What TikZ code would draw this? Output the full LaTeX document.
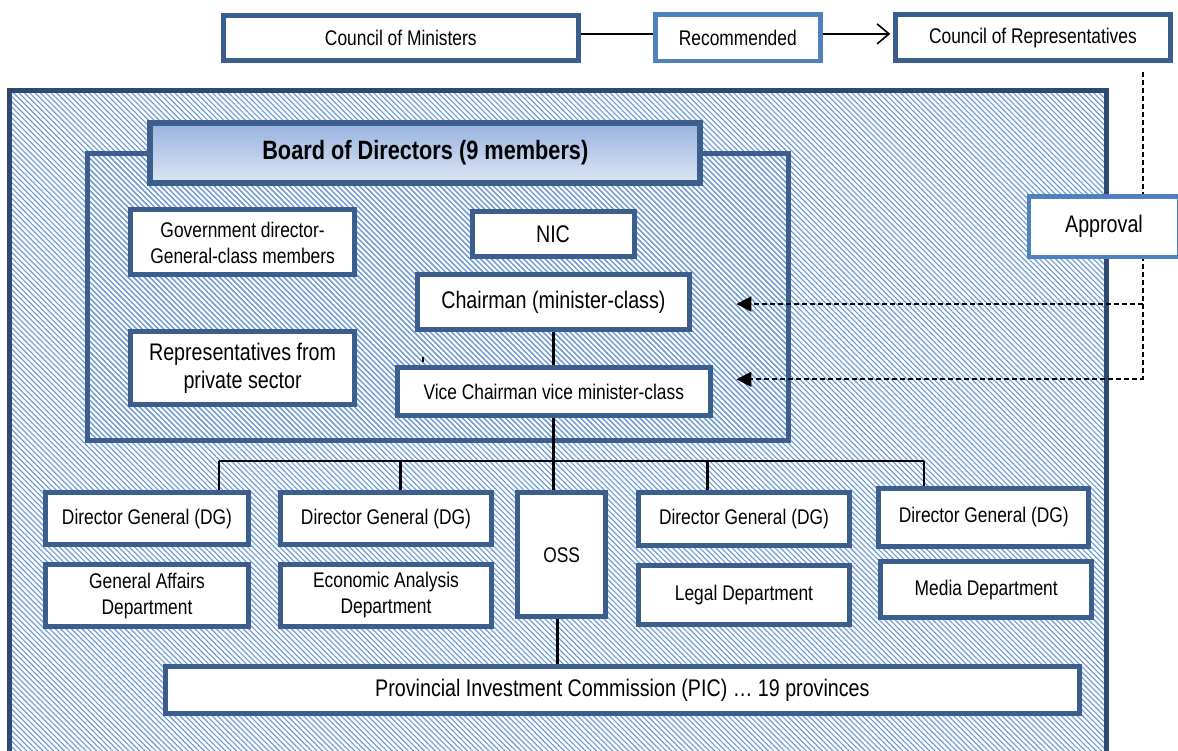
\documentclass[tikz,border=0pt]{standalone}
\usepackage{fontspec}
\setmainfont{Liberation Sans}
\newfontfamily\narrowsans{Liberation Sans}[FakeStretch=0.82]
\usetikzlibrary{arrows.meta,patterns.meta,calc}
\definecolor{frameblue}{RGB}{59,94,140}
\definecolor{outerblue}{RGB}{46,74,112}
\definecolor{lightframe}{RGB}{79,129,189}
\definecolor{hatchblue}{RGB}{108,154,214}
\definecolor{titletop}{RGB}{152,178,224}
\definecolor{titlebot}{RGB}{221,230,244}
\newcommand\smalltext{\narrowsans\fontsize{21.2}{26}\selectfont}
\newcommand\largetext{\narrowsans\fontsize{24}{27.5}\selectfont}
\newcommand\titletext{\narrowsans\bfseries\fontsize{26.5}{30}\selectfont}
\begin{document}
\begin{tikzpicture}[x=1pt,y=-1pt,
  box/.style={draw=frameblue, line width=5pt, fill=white, inner sep=0pt,
              align=center, font=\smalltext},
  lbox/.style={box, draw=lightframe, line width=4.5pt},
  big/.style={font=\largetext},
  sz/.style 2 args={minimum width=#1pt, minimum height=#2pt},
  hatched/.style={pattern={Lines[angle=-45,distance=3.8pt,line width=1.15pt]},
                  pattern color=hatchblue},
  link/.style={draw=black, line width=1.6pt},
  trunk/.style={draw=black, line width=2.8pt},
  approval/.style={draw=black, line width=2pt, dash pattern=on 5pt off 3pt},
]
\useasboundingbox (0,0) rectangle (1178,751);
\clip (0,0) rectangle (1178,751);

% hatched agency frame and board enclosure
\draw[hatched, draw=outerblue, line width=5pt] (9.6,90.5) rectangle (1106,775);
\draw[hatched, draw=frameblue, line width=5pt] (87.5,154) rectangle (788,440.5);

% top row
\node[box, sz={355.6}{44.3}] (com) at (400.8,37.9) {Council of Ministers};
\node[lbox, sz={164.9}{46.5}] (rec) at (737.8,37.9) {Recommended};
\node[box, sz={274.2}{46}] (cor) at (1032.9,37.9) {Council of Representatives};

% board of directors
\node[box, line width=6pt, top color=titletop, bottom color=titlebot,
      font=\titletext, sz={550}{60}] (board) at (425.3,152.8) {Board of Directors (9 members)};
\node[box, sz={224.2}{65}] (gov) at (242.6,242.5) {Government director-\\General-class members};
\node[box, big, sz={224.2}{73.3}] (rep) at (242.6,368.3) {Representatives from\\private sector};
\node[box, big, sz={162}{45}] (nic) at (553,234.2) {NIC};
\node[box, big, sz={271.9}{55}] (chair) at (553.4,302.5) {Chairman (minister-class)};
\node[box, sz={313.1}{48.3}] (vice) at (553.8,391.8) {Vice Chairman vice minister-class};

% departments
\node[box, sz={203.5}{52.3}] (dg1) at (147,518.8) {Director General (DG)};
\node[box, sz={203.5}{61.7}] (ga) at (147,595.8) {General Affairs\\Department};
\node[box, sz={210.9}{52.3}] (dg2) at (386,518.8) {Director General (DG)};
\node[box, sz={210.9}{62.4}] (ea) at (386,595.5) {Economic Analysis\\Department};
\node[box, sz={87.7}{124}] (oss) at (561.6,554.7) {OSS};
\node[box, sz={211.2}{53.3}] (dg3) at (744,519.3) {Director General (DG)};
\node[box, sz={211.2}{59.3}] (legal) at (744,595.3) {Legal Department};
\node[box, sz={210.3}{57.7}] (dg4) at (983.8,517.2) {Director General (DG)};
\node[box, sz={211.2}{56}] (media) at (986.2,589.7) {Media Department};
\node[box, big, sz={913.5}{46.6}] (pic) at (622.4,690) {Provincial Investment Commission (PIC) \dots\ 19 provinces};

% recommendation flow
\draw[link] ([yshift=4pt]com.east) -- ([yshift=4pt]com.east -| rec.west);
\draw[link, -{Straight Barb[length=12pt,width=20pt,line width=1.6pt]}]
  ([yshift=4pt]rec.east) -- ([yshift=4pt,xshift=-3pt]rec.east -| cor.west);

% approval path from the Council of Representatives
\coordinate (dx) at (1142.5,0);
\coordinate (dtop) at ($(cor.south -| dx)+(0,9)$);
\coordinate (dmid) at (1142.5,304);
\coordinate (dbot) at (1142.5,379.3);
\coordinate (tochair) at (736.4,304);
\coordinate (tovice) at (736.4,379.3);
\draw[approval, -{Triangle[length=15pt,width=15pt]}] (dtop) -- (dbot) -- (tovice);
\draw[approval, -{Triangle[length=15pt,width=15pt]}] (dmid) -- (tochair);
\node[lbox, big, sz={150.5}{60.5}] (appr) at (1104,226.7) {Approval};

% chain of command
\draw[trunk] (chair.south) -- (chair.south |- vice.north);
\draw[trunk] (vice.south) -- (vice.south |- oss.north);
\draw[black, line width=1.5pt] ($(vice.north west)+(28,-3)$) -- ($(vice.north west)+(28,-8)$);
\coordinate (busl) at (219,460.7);
\coordinate (busr) at (924,460.7);
\coordinate (bus2) at (400.5,460.7);
\coordinate (bus3) at (707.5,460.7);
\draw[link] (busl) -- (busr);
\draw[link] (busl) -- (busl |- dg1.north);
\draw[link] (busr) -- (busr |- dg4.north);
\draw[trunk] (bus2) -- (bus2 |- dg2.north);
\draw[trunk] (bus3) -- (bus3 |- dg3.north);
\draw[trunk] ([xshift=-4pt]oss.south) -- ([xshift=-4pt]oss.south |- pic.north);
\end{tikzpicture}
\end{document}
